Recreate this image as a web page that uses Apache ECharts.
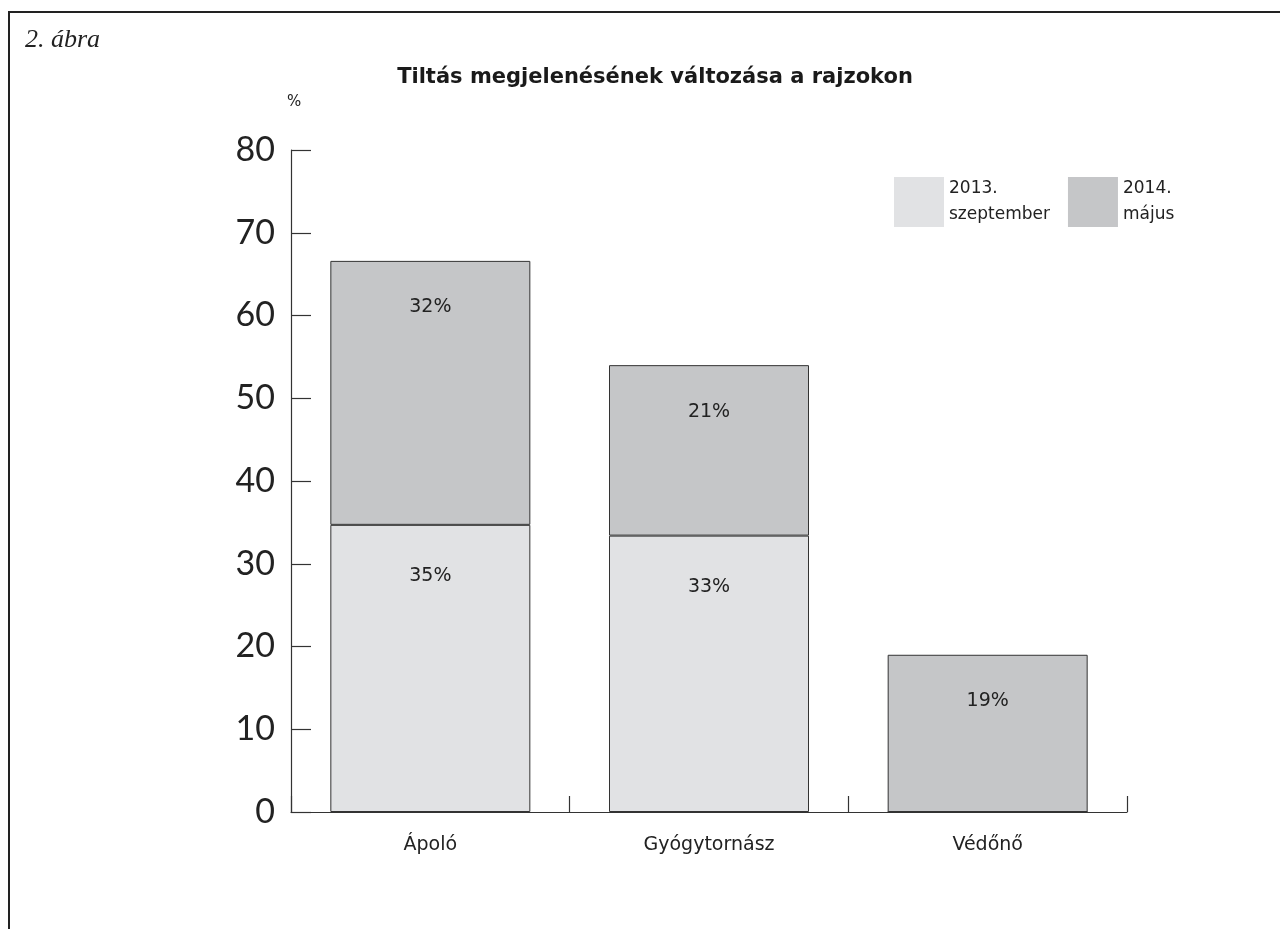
<!DOCTYPE html>
<html>
<head>
<meta charset="utf-8">
<script src="https://cdn.jsdelivr.net/npm/echarts@6/dist/echarts.min.js"></script>
<style>
  html, body { margin: 0; padding: 0; background: #fff; }
  #chart { width: 1280px; height: 929px; }
  .frame {
    position: absolute; left: 8px; top: 11px; right: 0; bottom: 0;
    border-top: 2.5px solid #222; border-left: 2.5px solid #222;
    pointer-events: none;
  }
</style>
</head>
<body>
<div id="chart"></div>
<div class="frame"></div>
<script>
var categories = ['Ápoló', 'Gyógytornász', 'Védőnő']
var sept2013 = [34.7, 33.4, 0]
var may2014 = [31.9, 20.6, 19.0]
var yTicks = [0, 10, 20, 30, 40, 50, 60, 70, 80]

var font = '"DejaVu Sans", sans-serif'

function pctLabel(p) {
  return p.value ? Math.round(p.value) + '%' : ''
}

var chart = echarts.init(document.getElementById('chart'))
chart.setOption({
  animation: false,
  title: [
    {
      text: '2. ábra',
      left: 20,
      top: 22,
      textStyle: { fontFamily: '"Liberation Serif", serif', fontStyle: 'italic', fontWeight: 'normal', fontSize: 26, color: '#222' }
    },
    {
      text: 'Tiltás megjelenésének változása a rajzokon',
      left: 650,
      textAlign: 'center',
      top: 62,
      textStyle: { fontFamily: font, fontWeight: 'bold', fontSize: 21, color: '#1a1a1a' }
    }
  ],
  legend: {
    left: 889,
    top: 171,
    icon: 'rect',
    itemWidth: 50,
    itemHeight: 50,
    itemGap: 18,
    itemStyle: { borderWidth: 0 },
    textStyle: { fontFamily: font, fontSize: 17, lineHeight: 26, color: '#222' },
    data: ['2013.\nszeptember', '2014.\nmájus']
  },
  grid: { left: 291, right: 153, top: 150, bottom: 117 },
  xAxis: {
    type: 'category',
    data: categories,
    axisLine: { lineStyle: { color: '#333', width: 1.2 } },
    axisTick: { show: true, inside: true, length: 16, alignWithLabel: false, lineStyle: { color: '#333', width: 1.2 } },
    axisLabel: { fontFamily: font, fontSize: 19, color: '#222', margin: 24 }
  },
  yAxis: {
    type: 'value',
    min: 0,
    max: yTicks[yTicks.length - 1],
    interval: 10,
    name: '%',
    nameGap: 40,
    nameTextStyle: { fontFamily: font, fontSize: 15, color: '#222', align: 'left', padding: [0, 0, 0, -4] },
    axisLine: { show: true, lineStyle: { color: '#333', width: 1.2 } },
    axisTick: { show: true, inside: true, length: 20, lineStyle: { color: '#333', width: 1.2 } },
    axisLabel: { fontFamily: 'Lato, sans-serif', fontSize: 34, color: '#222', margin: 16 },
    splitLine: { show: false }
  },
  series: [
    {
      name: '2013.\nszeptember',
      type: 'bar',
      stack: 'all',
      barWidth: 200,
      data: sept2013,
      itemStyle: { color: '#e1e2e4', borderColor: '#333', borderWidth: 1 },
      label: { show: true, position: 'insideTop', distance: 42, formatter: pctLabel, fontFamily: font, fontSize: 19, color: '#222' }
    },
    {
      name: '2014.\nmájus',
      type: 'bar',
      stack: 'all',
      barWidth: 200,
      data: may2014,
      itemStyle: { color: '#c5c6c8', borderColor: '#333', borderWidth: 1 },
      label: { show: true, position: 'insideTop', distance: 37, formatter: pctLabel, fontFamily: font, fontSize: 19, color: '#222' }
    }
  ]
})
</script>
</body>
</html>
